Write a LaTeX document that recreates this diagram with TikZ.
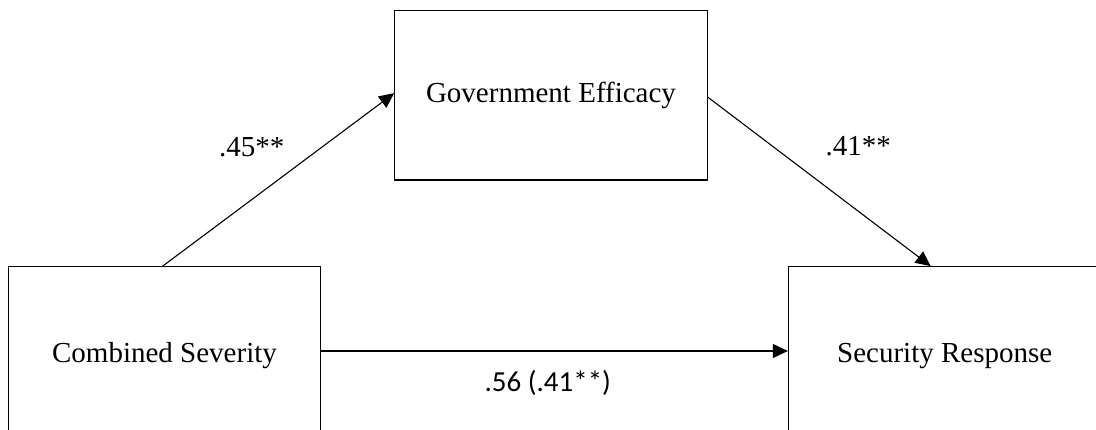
\documentclass[tikz,border=0pt]{standalone}
\usepackage{fontspec}
\setmainfont{Liberation Serif}
\newfontfamily\calib{Carlito}
\newfontfamily\tnr{Liberation Serif}
\usetikzlibrary{arrows.meta}
\begin{document}
\begin{tikzpicture}[x=1pt,y=-1pt,
  varbox/.style={draw, line width=1.2pt, rectangle, inner sep=0pt, minimum width=312.5pt, font=\tnr\fontsize{29}{34}\selectfont},
  path/.style={draw, line width=1.1pt, -{Triangle[length=15pt,width=14pt]}},
  coef/.style={font=\tnr\fontsize{29}{34}\selectfont, inner sep=0pt}]
\useasboundingbox (0,0) rectangle (1096,430);
\clip (0,0) rectangle (1096,430);
\node[varbox, minimum height=169.7pt] (ge) at (551,95.2) {Government Efficacy};
\node[varbox, minimum height=178.6pt] (cs) at (164.5,356) {Combined Severity};
\node[varbox, minimum height=178.6pt] (sr) at (944.7,356) {Security Response};
\draw[path] ([xshift=-1.8pt]cs.north) -- ([yshift=2pt]ge.west);
\draw[path] ([yshift=-2pt]ge.east) -- ([xshift=-14pt]sr.north);
\draw[path] ([yshift=5pt]cs.east) -- ([yshift=5pt]sr.west);
\node[coef] (l1) at (251.7,146.7) {.45**};
\node[coef] (l2) at (858.3,145.7) {.41**};
\node[coef, font=\calib\fontsize{29}{34}\selectfont] (l3) at (547.8,383) {.56 (.41**)};
\end{tikzpicture}
\end{document}
